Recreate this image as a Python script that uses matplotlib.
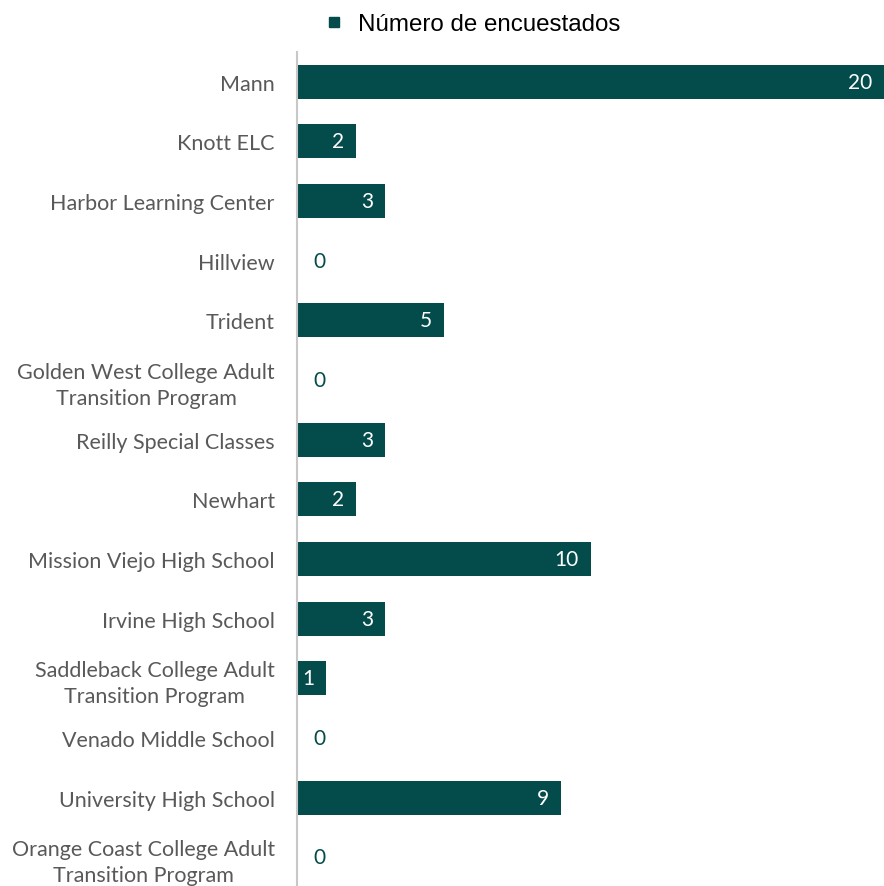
import matplotlib
matplotlib.use("Agg")
import matplotlib.pyplot as plt
from matplotlib.lines import Line2D

schools = ["Mann", "Knott ELC", "Harbor Learning Center", "Hillview", "Trident",
           "Golden West College Adult\nTransition Program", "Reilly Special Classes",
           "Newhart", "Mission Viejo High School", "Irvine High School",
           "Saddleback College Adult\nTransition Program", "Venado Middle School",
           "University High School", "Orange Coast College Adult\nTransition Program"]
counts = [20, 2, 3, 0, 5, 0, 3, 2, 10, 3, 1, 0, 9, 0]

teal = "#034c4b"
grey = "#595959"

fig = plt.figure(figsize=(8.84, 8.87), dpi=100)
ax = fig.add_axes([297/884, -1/887, 587/884, 835/887])

ypos = list(range(len(schools)))
ax.barh(ypos, counts, height=0.57, color=teal)
ax.set_ylim(len(schools) - 0.5, -0.5)
ax.set_xlim(0, 20)

for y, v in zip(ypos, counts):
    if v > 0:
        ax.text(v - 0.4, y, str(v), ha="right", va="center", color="white",
                fontsize=15, family="Lato")
    else:
        ax.text(0.55, y, "0", ha="left", va="center", color=teal,
                fontsize=15, family="Lato")

ax.set_yticks(ypos)
ax.set_yticklabels(schools, fontsize=15.5, family="Lato", color=grey,
                   linespacing=1.36, multialignment="center")
ax.tick_params(axis="y", length=0, pad=16)
ax.set_xticks([])
for s in ["top", "right", "bottom"]:
    ax.spines[s].set_visible(False)
ax.spines["left"].set_color("#c8c8c8")
ax.spines["left"].set_linewidth(1.5)

handle = Line2D([], [], marker="s", linestyle="none", color=teal, markersize=7)
fig.legend([handle], ["Número de encuestados"], loc="center",
           bbox_to_anchor=(471/884, 1 - 25/887), frameon=False,
           prop={"family": "Liberation Sans", "size": 17.4},
           handletextpad=0.5, handlelength=1.0)

fig.savefig("out.png", dpi=100)
